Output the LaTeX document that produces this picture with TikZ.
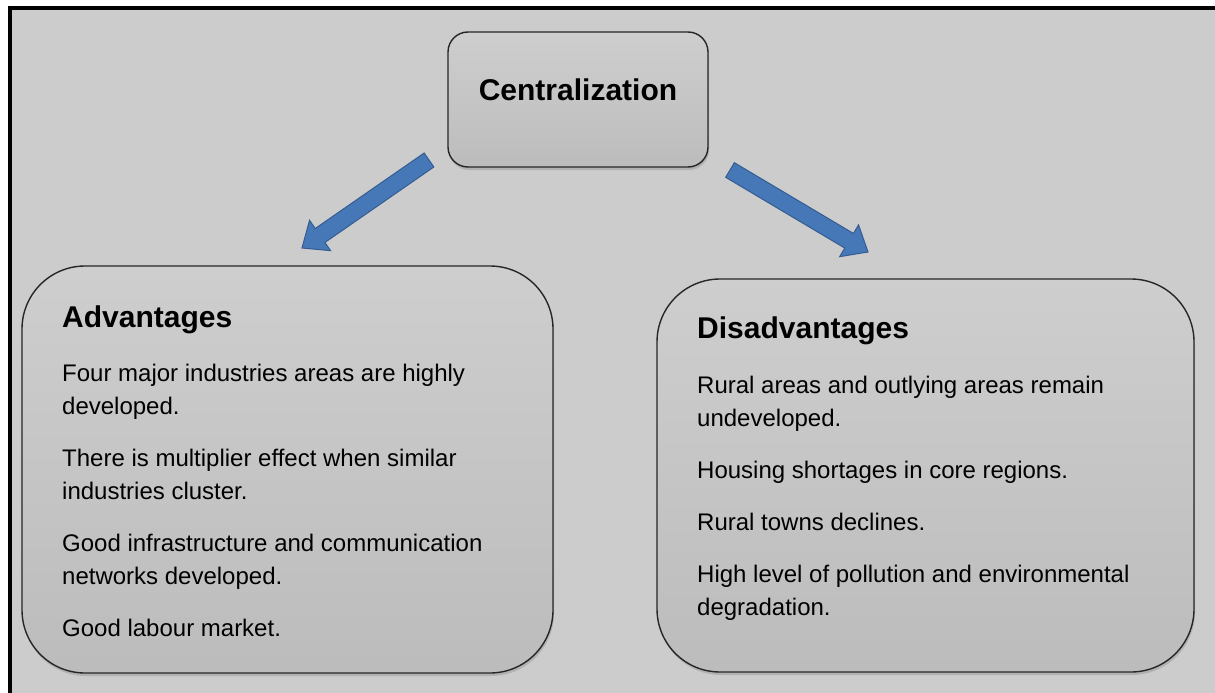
\documentclass[tikz,border=0pt]{standalone}
\usepackage{fontspec}
\setmainfont{Liberation Sans}
\usetikzlibrary{calc,shadows}
\definecolor{bgcol}{RGB}{204,204,204}
\definecolor{boxtop}{RGB}{206,206,206}
\definecolor{boxbot}{RGB}{188,188,188}
\definecolor{arrowfill}{RGB}{70,120,184}
\definecolor{arrowdraw}{RGB}{52,92,145}
\newcommand\blockarr[2]{%
  \coordinate (#1h) at ($(#2)!22pt!(#1)$);
  \filldraw[blockarrow]
    ($(#1)!8.5pt!90:(#2)$) -- ($(#1h)!8.5pt!90:(#2)$) -- ($(#1h)!18.5pt!90:(#2)$) -- (#2)
    -- ($(#1h)!18.5pt!-90:(#2)$) -- ($(#1h)!8.5pt!-90:(#2)$) -- ($(#1)!8.5pt!-90:(#2)$) -- cycle;}
\begin{document}
\begin{tikzpicture}[x=1pt,y=-1pt,
  box/.style={draw=black!85, line width=1.4pt, top color=boxtop, bottom color=boxbot,
    drop shadow={shadow xshift=1pt, shadow yshift=-3pt, opacity=0.35}, inner sep=0pt},
  headtxt/.style={font=\fontsize{30pt}{36pt}\selectfont\bfseries, inner sep=0pt, anchor=base west},
  itemtxt/.style={font=\fontsize{24pt}{33pt}\selectfont, inner sep=0pt, anchor=base west},
  blockarrow/.style={fill=arrowfill, draw=arrowdraw, line width=1pt, line join=miter}]
\useasboundingbox (0,0) rectangle (1215,693);
\fill[white] (0,0) rectangle (1215,693);
\fill[bgcol] (8,6) rectangle (1215,693);
\fill[black] (8,6) rectangle (12,693);
\fill[black] (8,6) rectangle (1215,10);

% boxes
\node[box, rounded corners=20pt, minimum width=260pt, minimum height=135pt] (cen) at (578,99.5) {};
\node[box, rounded corners=63pt, minimum width=531pt, minimum height=407pt] (adv) at (287.5,469.5) {};
\node[box, rounded corners=63pt, minimum width=537pt, minimum height=393pt] (dis) at (925.5,475.5) {};

% arrows
\coordinate (tl) at (429,160);
\coordinate (pl) at (302,248);
\coordinate (tr) at (730,170);
\coordinate (pr) at (868,252);
\blockarr{tl}{pl}
\blockarr{tr}{pr}

% texts
\node[headtxt, anchor=base] (cent) at (578,100) {Centralization};

\node[headtxt] (advh) at (62,327) {Advantages};
\node[itemtxt] (a1) at (62,381) {Four major industries areas are highly};
\node[itemtxt] (a1b) at (62,414) {developed.};
\node[itemtxt] (a2) at (62,466) {There is multiplier effect when similar};
\node[itemtxt] (a2b) at (62,499) {industries cluster.};
\node[itemtxt] (a3) at (62,551) {Good infrastructure and communication};
\node[itemtxt] (a3b) at (62,584) {networks developed.};
\node[itemtxt] (a4) at (62,636) {Good labour market.};

\node[headtxt] (dish) at (697,338) {Disadvantages};
\node[itemtxt] (d1) at (697,393) {Rural areas and outlying areas remain};
\node[itemtxt] (d1b) at (697,426) {undeveloped.};
\node[itemtxt] (d2) at (697,478) {Housing shortages in core regions.};
\node[itemtxt] (d3) at (697,530) {Rural towns declines.};
\node[itemtxt] (d4) at (697,582) {High level of pollution and environmental};
\node[itemtxt] (d4b) at (697,615) {degradation.};
\end{tikzpicture}
\end{document}
